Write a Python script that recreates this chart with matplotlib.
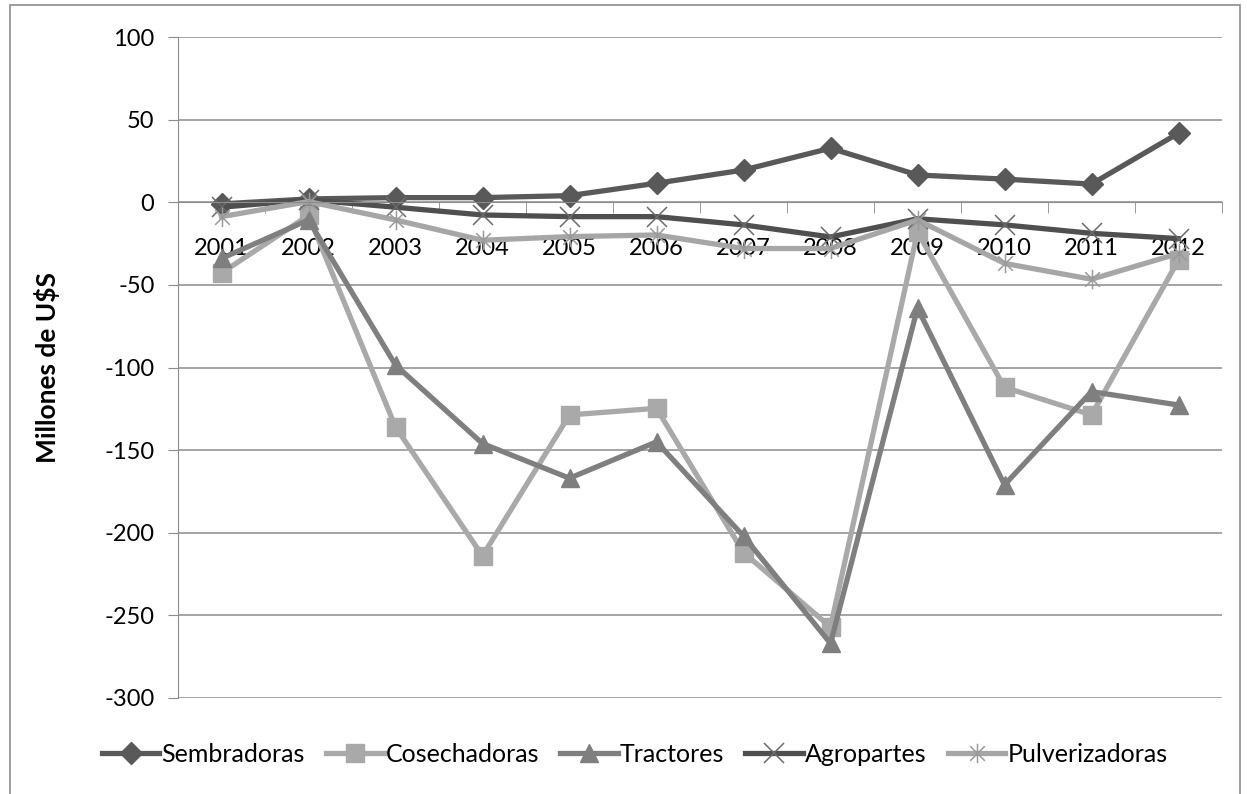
import numpy as np
import matplotlib.pyplot as plt
from matplotlib.path import Path
from matplotlib.patches import Rectangle

plt.rcParams['font.family'] = ['Lato', 'DejaVu Sans']
plt.rcParams['axes.unicode_minus'] = False

years = ['2001', '2002', '2003', '2004', '2005', '2006',
         '2007', '2008', '2009', '2010', '2011', '2012']

sembradoras = [-1, 2, 2.8, 2.8, 4, 11.5, 19.5, 32.7, 16.5, 14, 11, 41.8]
cosechadoras = [-42.8, -8, -136, -214, -128.7, -124.7, -212, -257, -18, -112, -128.7, -35]
tractores = [-34, -10.7, -98.5, -146, -167, -145, -202, -267, -64, -171, -114.6, -122.7]
agropartes = [-3, 1.5, -3, -7.7, -8.7, -8.7, -13.7, -21, -10, -13.7, -18.8, -22]
pulverizadoras = [-8.7, 0.4, -10.7, -23, -20.8, -19.8, -28, -28, -10.7, -37, -46.6, -31]

# asterisk marker: vertical stroke plus an X
star = Path([(0, -1), (0, 1), (-0.75, -0.75), (0.75, 0.75), (-0.75, 0.75), (0.75, -0.75)],
            [Path.MOVETO, Path.LINETO, Path.MOVETO, Path.LINETO, Path.MOVETO, Path.LINETO])

fig = plt.figure(figsize=(12.47, 7.94), dpi=100)
ax = fig.add_axes([178 / 1247, 96 / 794, 1044 / 1247, 661 / 794])

x = np.arange(len(years))
ax.plot(x, sembradoras, color='#595959', lw=3.8, marker='D', ms=11, label='Sembradoras')
ax.plot(x, cosechadoras, color='#a9a9a9', lw=3.8, marker='s', ms=13, label='Cosechadoras')
ax.plot(x, tractores, color='#7f7f7f', lw=3.8, marker='^', ms=13, label='Tractores')
ax.plot(x, agropartes, color='#4f4f4f', lw=3.8, marker='x', ms=14, mew=1.1,
        mec='#6a6a6a', label='Agropartes')
ax.plot(x, pulverizadoras, color='#a6a6a6', lw=3.8, marker=star, ms=14, mew=1.1,
        mec='#9a9a9a', label='Pulverizadoras')

ax.set_xlim(-0.5, 11.5)
ax.set_ylim(-300, 100)
ax.set_yticks(np.arange(-300, 101, 50))
ax.grid(axis='y', color='#8c8c8c', lw=1.1)
ax.set_axisbelow(True)

for s in ['top', 'right']:
    ax.spines[s].set_visible(False)
ax.spines['bottom'].set_position(('data', 0))
ax.spines['bottom'].set_color('#8c8c8c')
ax.spines['left'].set_color('#8c8c8c')

ax.set_xticks(x)
ax.set_xticklabels(years)
ax.set_xticks(np.arange(-0.5, 12, 1), minor=True)
ax.tick_params(axis='x', which='major', length=0, pad=26, labelsize=17)
ax.tick_params(axis='x', which='minor', length=8, color='#8c8c8c', direction='out')
ax.tick_params(axis='y', length=7, color='#8c8c8c', labelsize=17, pad=10)

ax.set_ylabel('Millones de U$S', fontsize=19, fontweight='bold', labelpad=32)

fig.legend(loc='center', bbox_to_anchor=(0.509, 0.05), ncol=5, frameon=False,
           fontsize=18, handlelength=2.3, handletextpad=0.08, columnspacing=0.85)

fig.patches.append(Rectangle((10 / 1247, -0.1), 1230 / 1247, 1.1 - 5 / 794,
                             transform=fig.transFigure, fill=False,
                             edgecolor='#8c8c8c', lw=1.2))

fig.savefig('out.png', dpi=100)
